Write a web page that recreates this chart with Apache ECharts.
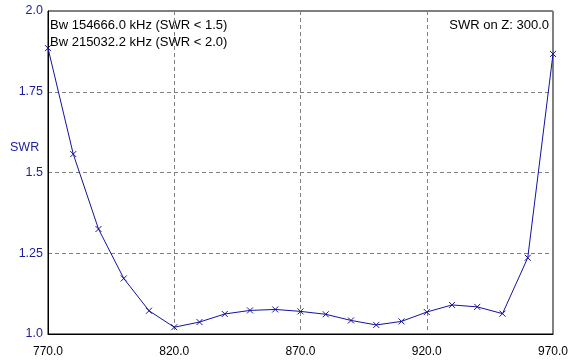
<!DOCTYPE html>
<html>
<head>
<meta charset="utf-8">
<script src="https://cdn.jsdelivr.net/npm/echarts@6/dist/echarts.min.js"></script>
<style>
  html, body { margin: 0; padding: 0; background: #fff; }
  #chart { width: 583px; height: 361px; }
</style>
</head>
<body>
<div id="chart"></div>
<script>
  // frequency (MHz) and SWR
  var freq = [770, 780, 790, 800, 810, 820, 830, 840, 850, 860, 870,
              880, 890, 900, 910, 920, 930, 940, 950, 960, 970];
  var swr = [1.885, 1.557, 1.325, 1.172, 1.072, 1.021, 1.037, 1.062, 1.073, 1.076, 1.070,
             1.061, 1.042, 1.028, 1.039, 1.068, 1.090, 1.084, 1.063, 1.236, 1.867];
  var yTicks = { '1': '1.0', '1.25': '1.25', '1.5': '1.5', '1.75': '1.75', '2': '2.0' };
  var infoLines = ['Bw 154666.0 kHz (SWR < 1.5)', 'Bw 215032.2 kHz (SWR < 2.0)'];
  var zText = 'SWR on Z: 300.0';

  var lineColor = '#1212a0';
  var labelBlue = '#1c1c9c';
  var font = 'Arial, "Liberation Sans", sans-serif';

  var chart = echarts.init(document.getElementById('chart'));
  var pts = freq.map(function (f, i) { return [f, swr[i]]; });

  var option = {
    animation: false,
    grid: {
      left: 48, right: 30, top: 11, bottom: 27,
      show: true, borderColor: '#000', borderWidth: 1
    },
    xAxis: {
      type: 'value', min: 770, max: 970, interval: 50,
      axisLine: { show: true, lineStyle: { color: '#000' } },
      axisTick: { show: false },
      axisLabel: {
        margin: 12, color: '#000', fontSize: 12, fontFamily: font,
        formatter: function (v) { return v.toFixed(1); }
      },
      splitLine: { show: true, lineStyle: { color: '#808080', type: [4, 3] } }
    },
    yAxis: {
      type: 'value', min: 1, max: 2, interval: 0.25,
      axisLine: { show: true, lineStyle: { color: '#000' } },
      axisTick: { show: false },
      axisLabel: {
        margin: 5, color: labelBlue, fontSize: 12.5, fontFamily: font,
        formatter: function (v) { return yTicks[String(v)]; }
      },
      splitLine: { show: true, lineStyle: { color: '#808080', type: [4, 3] } }
    },
    graphic: [
      { type: 'text', left: 10, top: 141, style: { text: 'SWR', fill: labelBlue, font: '12.5px ' + font } },
      { type: 'text', left: 50, top: 19, style: { text: infoLines[0], fill: '#000', font: '13px ' + font } },
      { type: 'text', left: 50, top: 36, style: { text: infoLines[1], fill: '#000', font: '13px ' + font } },
      { type: 'text', right: 34, top: 19, style: { text: zText, fill: '#000', font: '13px ' + font } }
    ],
    series: [{
      type: 'line',
      data: pts,
      symbol: 'path://M0,0L10,10M0,10L10,0',
      symbolSize: 6,
      showAllSymbol: true,
      lineStyle: { color: lineColor, width: 1 },
      itemStyle: { color: lineColor, borderColor: lineColor, borderWidth: 1 }
    }]
  };
  chart.setOption(option);
</script>
</body>
</html>
